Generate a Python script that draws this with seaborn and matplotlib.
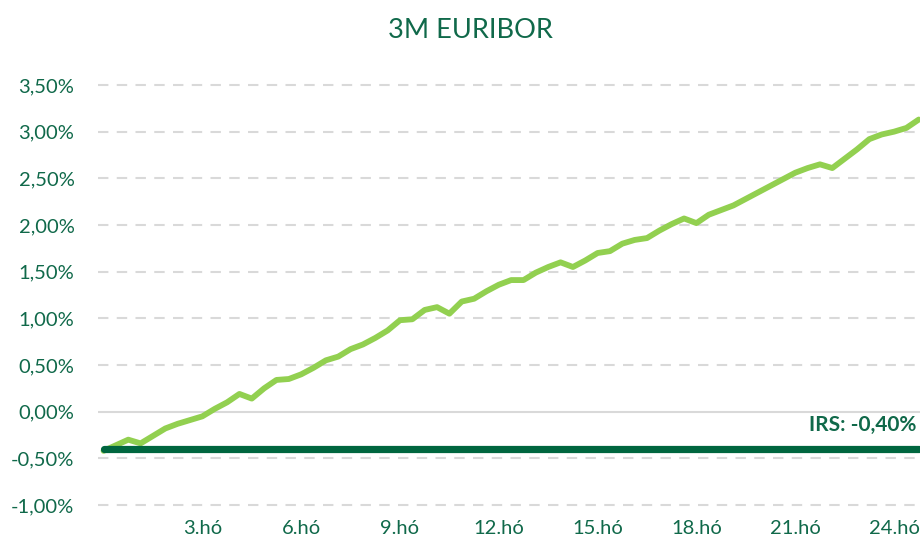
import numpy as np
import pandas as pd
import seaborn as sns
from matplotlib import pyplot as plt
from matplotlib.ticker import FuncFormatter


# 3M EURIBOR forward curve (%)
euribor = [-0.42, -0.36, -0.30, -0.34, -0.26, -0.18, -0.13, -0.09, -0.05, 0.03,
           0.10, 0.19, 0.14, 0.25, 0.34, 0.35, 0.40, 0.47, 0.55, 0.59,
           0.67, 0.72, 0.79, 0.87, 0.98, 0.99, 1.09, 1.12, 1.05, 1.18,
           1.21, 1.29, 1.36, 1.41, 1.41, 1.49, 1.55, 1.60, 1.55, 1.62,
           1.70, 1.72, 1.80, 1.84, 1.86, 1.94, 2.01, 2.07, 2.02, 2.11,
           2.16, 2.21, 2.28, 2.35, 2.42, 2.49, 2.56, 2.61, 2.65, 2.61,
           2.71, 2.81, 2.92, 2.97, 3.00, 3.04, 3.13]
irs = -0.40
tick_pos = [8, 16, 24, 32, 40, 48, 56, 64]
tick_labels = ['3.hó', '6.hó', '9.hó', '12.hó', '15.hó', '18.hó', '21.hó', '24.hó']

df = pd.DataFrame({'period': np.arange(len(euribor)), 'euribor': euribor})
df['irs'] = irs

dark_green = '#00663F'
light_green = '#92D050'
text_green = '#10694A'

sns.set_theme(style='white')
plt.rcParams['font.family'] = ['Lato', 'DejaVu Sans']

fig = plt.figure(figsize=(9.23, 5.42), dpi=100)
ax = fig.add_axes([98 / 923, 1 - 505 / 542, 822 / 923, 420 / 542])

# grid lines
for v in np.arange(-1.0, 3.51, 0.5):
    if abs(v) < 1e-9:
        ax.axhline(v, color='#d9d9d9', lw=1.5, zorder=0)
    else:
        ax.axhline(v, color='#d9d9d9', lw=1.5, ls=(0, (5, 4)), zorder=0, clip_on=False)

sns.lineplot(data=df, x='period', y='irs', ax=ax, color=dark_green, lw=5.2,
             solid_capstyle='round', zorder=3)
sns.lineplot(data=df, x='period', y='euribor', ax=ax, color=light_green, lw=4.2,
             solid_capstyle='round', zorder=2)

ax.set_xlim(-0.45, 66.1)
ax.set_ylim(-1.0, 3.5)
ax.set_yticks(np.arange(-1.0, 3.51, 0.5))
ax.yaxis.set_major_formatter(FuncFormatter(lambda v, p: f'{v:.2f}%'.replace('.', ',')))
ax.set_xticks(tick_pos)
ax.set_xticklabels(tick_labels)
ax.tick_params(axis='both', length=0, labelsize=14.5, labelcolor=text_green)
ax.tick_params(axis='x', pad=11)
ax.tick_params(axis='y', pad=17)
ax.set_xlabel('')
ax.set_ylabel('')
for s in ax.spines.values():
    s.set_visible(False)

ax.text(65.8, -0.14, 'IRS: -0,40%', ha='right', va='center', fontsize=15,
        fontweight='bold', color=text_green)

fig.text(470 / 923, 1 - 31 / 542, '3M EURIBOR', ha='center', va='center',
         fontsize=19.5, color=text_green)

fig.savefig('out.png', dpi=100)
